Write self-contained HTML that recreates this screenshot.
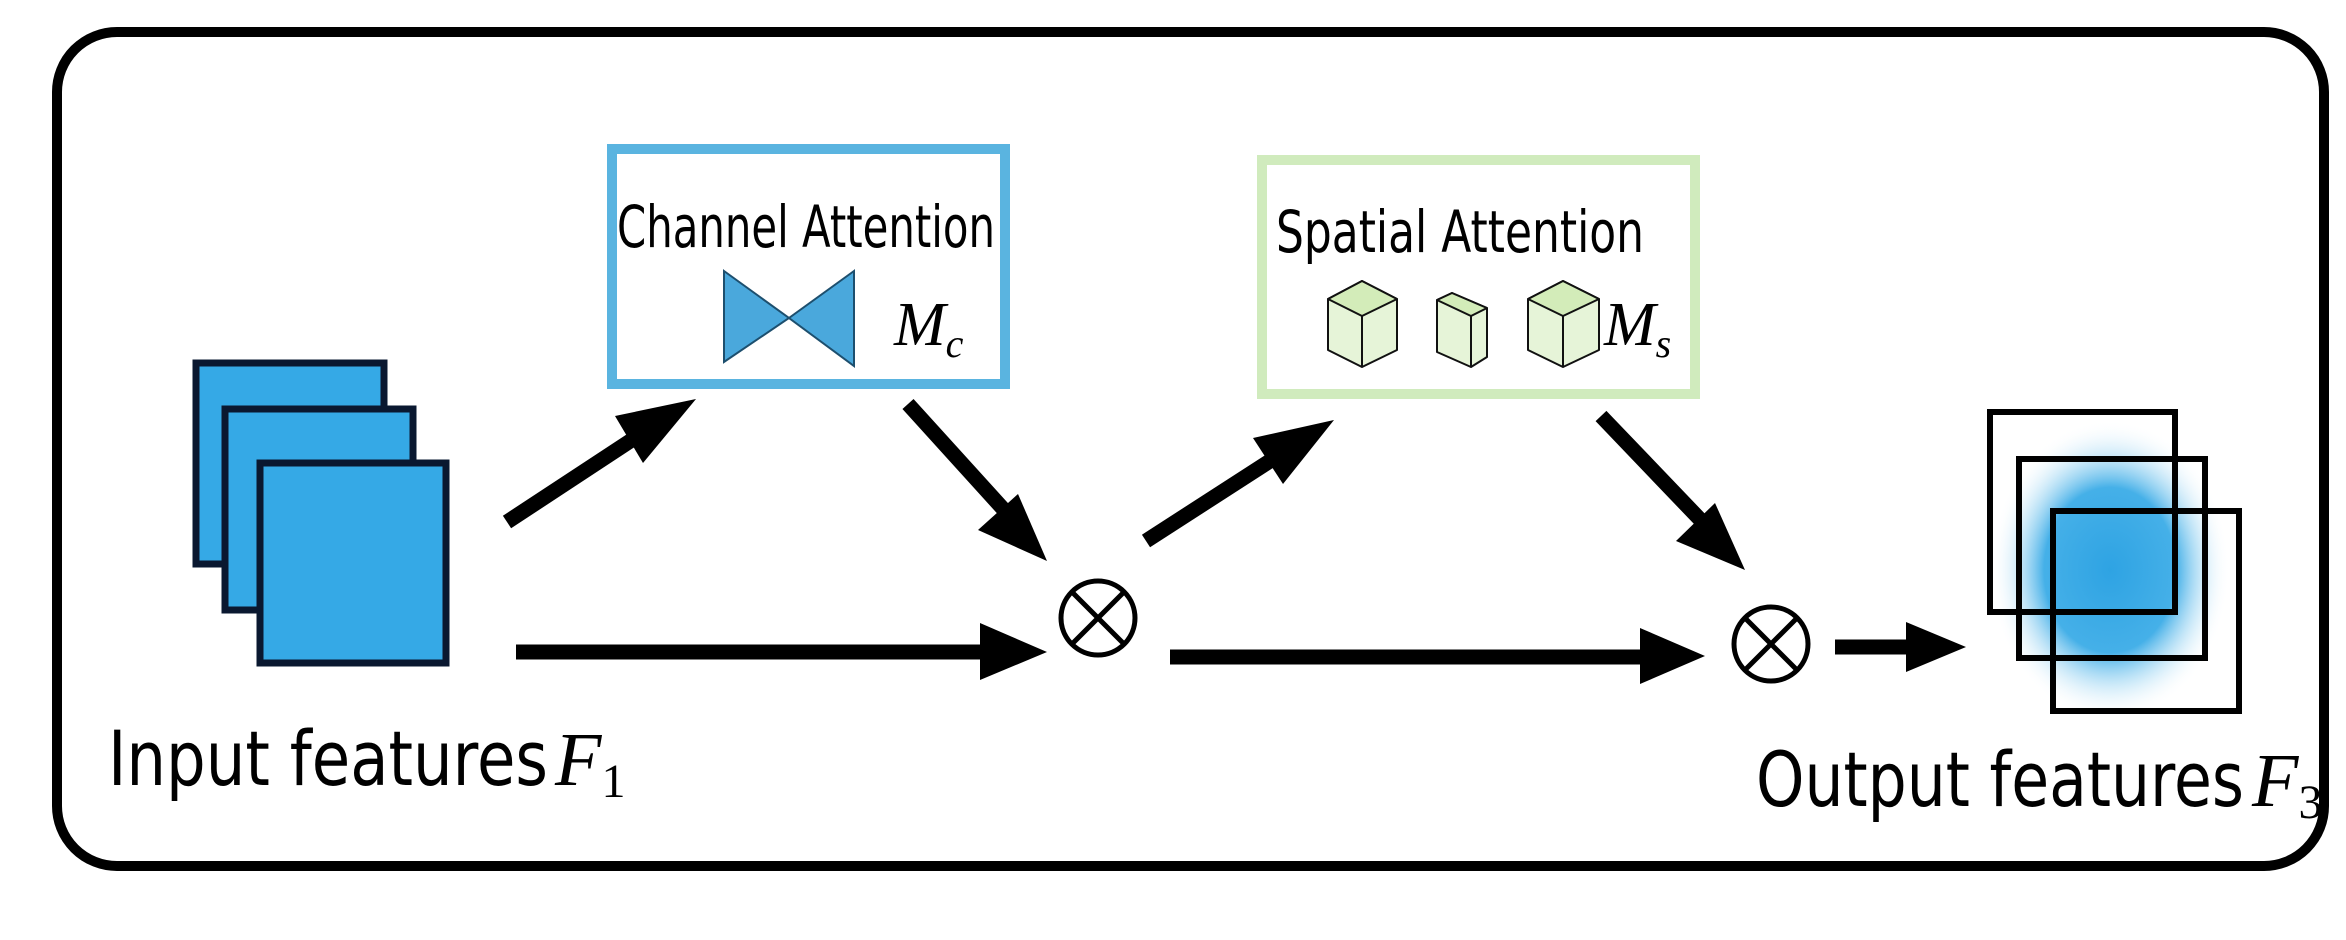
<!DOCTYPE html>
<html><head><meta charset="utf-8"><style>
html,body{margin:0;padding:0;background:#fff;}
svg{display:block;}
</style></head><body>
<svg width="2346" height="940" viewBox="0 0 2346 940" xmlns="http://www.w3.org/2000/svg">
<defs>
<radialGradient id="blur" cx="0.5" cy="0.5" r="0.5">
<stop offset="0" stop-color="#2ea3e3"/>
<stop offset="0.55" stop-color="#45b0e8"/>
<stop offset="1" stop-color="#ffffff" stop-opacity="0"/>
</radialGradient>
</defs>
<rect x="0" y="0" width="2346" height="940" fill="#fff"/>
<!-- outer frame -->
<rect x="57" y="32" width="2267" height="834" rx="60" ry="60" fill="none" stroke="#000" stroke-width="10"/>

<!-- input stack -->
<g fill="#35a9e6" stroke="#0a1830" stroke-width="7">
<rect x="196" y="363" width="188" height="201"/>
<rect x="225" y="409" width="188" height="201"/>
<rect x="260" y="463" width="186" height="200"/>
</g>

<!-- channel attention box -->
<rect x="612" y="149" width="393" height="235" fill="#fff" stroke="#5ab4e0" stroke-width="10"/>
<text x="617" y="247" font-family="DejaVu Sans, sans-serif" font-size="58" textLength="378" lengthAdjust="spacingAndGlyphs" fill="#000">Channel Attention</text>
<polygon points="724,271 789,318 724,362" fill="#4aa8dc" stroke="#1d4f6e" stroke-width="2"/>
<polygon points="854,271 789,318 854,366" fill="#4aa8dc" stroke="#1d4f6e" stroke-width="2"/>
<text x="894" y="345" font-family="Liberation Serif, serif" font-style="italic" font-size="62" fill="#000">M<tspan font-size="40" dy="12">c</tspan></text>

<!-- spatial attention box -->
<rect x="1262" y="160" width="433" height="234" fill="#fff" stroke="#d0ebbd" stroke-width="10"/>
<text x="1276" y="252" font-family="DejaVu Sans, sans-serif" font-size="58" textLength="368" lengthAdjust="spacingAndGlyphs" fill="#000">Spatial Attention</text>
<g stroke="#111" stroke-width="2" stroke-linejoin="round">
<!-- cube1 -->
<polygon points="1362,281 1397,299 1397,350 1362,367 1328,350 1328,299" fill="#e6f4d8"/>
<polygon points="1362,281 1397,299 1362,316 1328,299" fill="#d3ecb9"/>
<line x1="1362" y1="316" x2="1362" y2="367"/>
<!-- cube2 -->
<polygon points="1452,293 1487,308 1487,357 1471,367 1437,352 1437,300" fill="#e6f4d8"/>
<polygon points="1437,300 1452,293 1487,308 1471,316" fill="#d3ecb9"/>
<line x1="1471" y1="316" x2="1471" y2="367"/>
<!-- cube3 -->
<polygon points="1563,281 1599,299 1599,350 1563,367 1528,350 1528,299" fill="#e6f4d8"/>
<polygon points="1563,281 1599,299 1563,316 1528,299" fill="#d3ecb9"/>
<line x1="1563" y1="316" x2="1563" y2="367"/>
</g>
<text x="1604" y="345" font-family="Liberation Serif, serif" font-style="italic" font-size="62" fill="#000">M<tspan font-size="40" dy="12">s</tspan></text>

<!-- arrows -->
<g stroke="#000" stroke-width="15" fill="none">
<line x1="507" y1="522" x2="650" y2="428"/>
<line x1="908" y1="404" x2="1015" y2="522"/>
<line x1="516" y1="652" x2="985" y2="652"/>
<line x1="1146" y1="541" x2="1290" y2="448"/>
<line x1="1601" y1="416" x2="1713" y2="533"/>
<line x1="1170" y1="657" x2="1645" y2="657"/>
<line x1="1835" y1="647" x2="1912" y2="647"/>
</g>
<g fill="#000">
<polygon points="696,399 643,463 615,416"/>
<polygon points="1047,561 978,530 1018,494"/>
<polygon points="1047,652 980,623 980,680"/>
<polygon points="1334,420 1283,484 1253,438"/>
<polygon points="1745,570 1676,541 1715,503"/>
<polygon points="1705,656 1640,628 1640,684"/>
<polygon points="1966,647 1906,622 1906,672"/>
</g>

<!-- otimes -->
<g stroke="#000" stroke-width="5" fill="none">
<circle cx="1098" cy="618" r="37"/>
<line x1="1072" y1="592" x2="1124" y2="644"/>
<line x1="1124" y1="592" x2="1072" y2="644"/>
<circle cx="1771" cy="644" r="37"/>
<line x1="1745" y1="618" x2="1797" y2="670"/>
<line x1="1797" y1="618" x2="1745" y2="670"/>
</g>

<!-- output features -->
<ellipse cx="2110" cy="570" rx="120" ry="150" fill="url(#blur)"/>
<g fill="none" stroke="#000" stroke-width="6">
<rect x="1990" y="412" width="185" height="200"/>
<rect x="2019" y="459" width="186" height="199"/>
<rect x="2053" y="511" width="186" height="200"/>
</g>

<!-- labels -->
<text x="108" y="785" font-family="DejaVu Sans, sans-serif" font-size="76" textLength="440" lengthAdjust="spacingAndGlyphs" fill="#000">Input features</text>
<text x="555" y="785" font-family="Liberation Serif, serif" font-style="italic" font-size="76" fill="#000">F<tspan font-style="normal" font-size="48" dy="12">1</tspan></text>
<text x="1756" y="806" font-family="DejaVu Sans, sans-serif" font-size="76" textLength="488" lengthAdjust="spacingAndGlyphs" fill="#000">Output features</text>
<text x="2252" y="806" font-family="Liberation Serif, serif" font-style="italic" font-size="76" fill="#000">F<tspan font-style="normal" font-size="48" dy="12">3</tspan></text>
</svg>
</body></html>
